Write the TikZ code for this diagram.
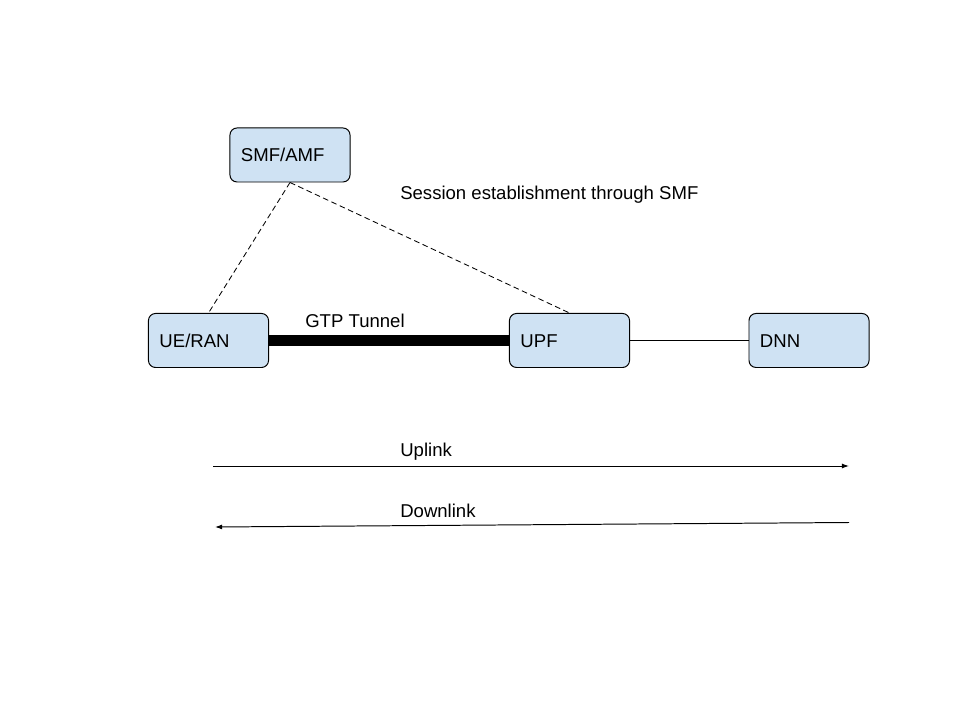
\documentclass[tikz,border=0pt]{standalone}
\usepackage{fontspec}
\setmainfont{Liberation Sans}
\usetikzlibrary{arrows.meta}
\definecolor{boxblue}{HTML}{CFE2F3}

\begin{document}
\begin{tikzpicture}[x=0.025cm, y=-0.025cm,
  every node/.style={font=\fontsize{13.2}{15}\selectfont},
  nf/.style={draw, fill=boxblue, rounded corners=5pt, line width=0.7pt,
    minimum height=1.35cm, text width=2.45cm, inner xsep=0.275cm, align=left,
    text height=9.4pt, text depth=0pt},
  lbl/.style={anchor=west, inner sep=0pt}]
  \useasboundingbox (0,0) rectangle (960,720);
  \node[nf] (smf) at (290,155) {SMF/AMF};
  \foreach \n/\t/\x in {ue/{UE/RAN}/208.5, upf/UPF/569.5, dnn/DNN/809}
  {
    \node[nf] (\n) at (\x,340.5) {\t};
  }
  % signalling through the control plane
  \path[draw, dashed, dash pattern=on 4pt off 2.5pt, line width=0.6pt] (smf.south) -- (ue.north);
  \path[draw, dashed, dash pattern=on 4pt off 2.5pt, line width=0.6pt] (smf.south) -- (upf.north);
  \node[lbl] (sess) at (400,195) {Session establishment through SMF};
  % user plane
  \path[draw, line width=8.5pt] (ue.east) -- (upf.west);
  \node[lbl] (gtp) at (305,321) {GTP Tunnel};
  \path[draw, line width=0.7pt] (upf) -- (dnn);
  % traffic direction
  \coordinate (ul1) at (213,466);
  \coordinate (ul2) at (849,466);
  \coordinate (dl1) at (849,522.5);
  \coordinate (dl2) at (215,527);
  \path[draw, line width=0.7pt, -{Latex[length=5pt,width=3.5pt]}] (ul1) -- (ul2);
  \path[draw, line width=0.7pt, -{Latex[length=5pt,width=3.5pt]}] (dl1) -- (dl2);
  \node[lbl] (up) at (400,451.5) {Uplink};
  \node[lbl] (down) at (400,511) {Downlink};
\end{tikzpicture}
\end{document}
